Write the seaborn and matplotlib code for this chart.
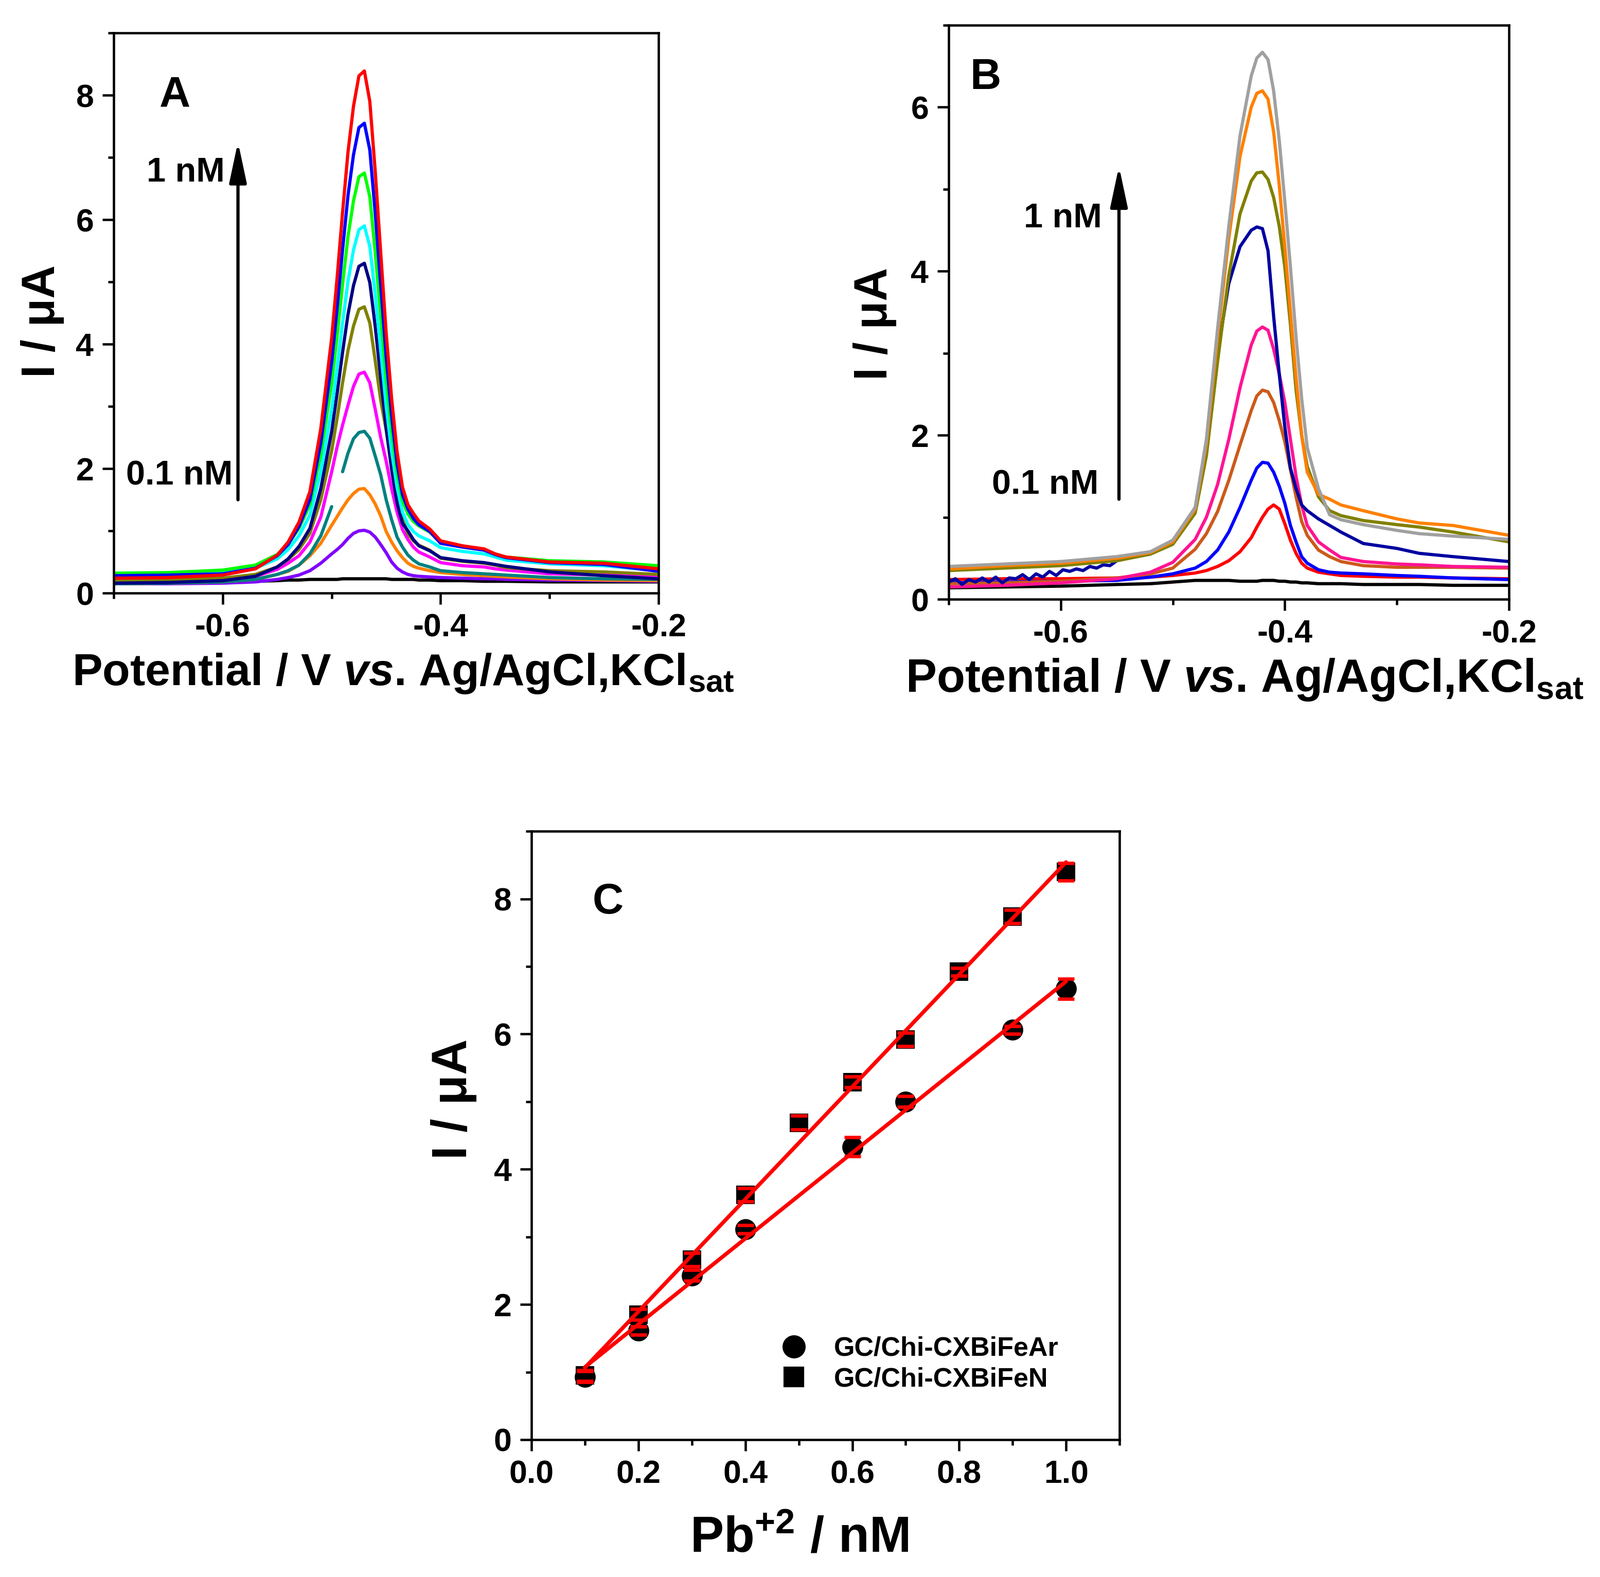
import numpy as np
import pandas as pd
import matplotlib
matplotlib.use("Agg")
import matplotlib.pyplot as plt
import seaborn as sns
from matplotlib.ticker import MultipleLocator
from matplotlib.lines import Line2D

# ---------------- Panel A data ----------------
potential_a = [-0.70, -0.65, -0.60, -0.57, -0.55, -0.54, -0.53, -0.52, -0.51, -0.50,
               -0.495, -0.49, -0.485, -0.48, -0.475, -0.47, -0.465, -0.46, -0.455, -0.45,
               -0.445, -0.44, -0.435, -0.43, -0.425, -0.42, -0.41, -0.40, -0.38, -0.36,
               -0.35, -0.34, -0.30, -0.25, -0.20]
a_black = [0.15, 0.16, 0.18, 0.19, 0.20, 0.21, 0.21, 0.22, 0.22, 0.22, 0.22, 0.23, 0.23, 0.23, 0.23,
           0.23, 0.23, 0.23, 0.23, 0.23, 0.22, 0.22, 0.22, 0.22, 0.22, 0.21, 0.21, 0.20, 0.20, 0.19,
           0.19, 0.19, 0.18, 0.18, 0.18]
a_purple = [0.15, 0.15, 0.16, 0.18, 0.22, 0.25, 0.29, 0.36, 0.48, 0.63, 0.70, 0.78, 0.88, 0.96, 1.00,
            1.01, 0.98, 0.90, 0.78, 0.65, 0.50, 0.40, 0.34, 0.30, 0.28, 0.27, 0.26, 0.25, 0.24, 0.23,
            0.23, 0.22, 0.21, 0.20, 0.19]
a_orange = [0.15, 0.16, 0.18, 0.22, 0.30, 0.35, 0.45, 0.60, 0.80, 1.09, 1.23, 1.37, 1.50, 1.60, 1.67,
            1.68, 1.58, 1.43, 1.24, 0.99, 0.82, 0.68, 0.57, 0.48, 0.43, 0.40, 0.36, 0.33, 0.30, 0.28,
            0.27, 0.26, 0.23, 0.21, 0.20]
a_teal = [0.15, 0.16, 0.18, 0.22, 0.30, 0.36, 0.45, 0.63, 0.92, 1.39, np.nan, 1.95, 2.25, 2.48, 2.58,
          2.60, 2.49, 2.20, 1.90, 1.50, 1.18, 0.90, 0.74, 0.61, 0.53, 0.47, 0.42, 0.36, 0.33, 0.31,
          0.30, 0.29, 0.25, 0.23, 0.22]
a_magenta = [0.20, 0.20, 0.22, 0.27, 0.38, 0.48, 0.60, 0.82, 1.22, 1.95, 2.35, 2.70, 3.02, 3.32, 3.52,
             3.55, 3.38, 2.95, 2.50, 2.12, 1.68, 1.30, 1.02, 0.86, 0.74, 0.66, 0.58, 0.49, 0.44, 0.42,
             0.39, 0.37, 0.31, 0.29, 0.27]
a_olive = [0.20, 0.21, 0.24, 0.30, 0.42, 0.54, 0.70, 0.96, 1.50, 2.29, 2.81, 3.38, 3.90, 4.29, 4.56,
           4.60, 4.34, 3.73, 3.10, 2.62, 2.05, 1.55, 1.20, 0.95, 0.84, 0.77, 0.69, 0.56, 0.51, 0.48,
           0.45, 0.41, 0.36, 0.34, 0.30]
a_navy = [0.16, 0.17, 0.20, 0.27, 0.42, 0.55, 0.75, 1.04, 1.68, 2.60, 3.21, 3.87, 4.48, 4.94, 5.25,
          5.30, 4.99, 4.28, 3.46, 2.65, 1.99, 1.45, 1.12, 1.00, 0.86, 0.76, 0.68, 0.57, 0.52, 0.49,
          0.46, 0.43, 0.34, 0.28, 0.23]
a_cyan = [0.28, 0.29, 0.33, 0.40, 0.55, 0.70, 0.92, 1.25, 1.95, 2.95, 3.62, 4.34, 5.01, 5.51, 5.84,
          5.90, 5.57, 4.79, 3.90, 3.00, 2.28, 1.70, 1.30, 1.10, 0.99, 0.92, 0.84, 0.73, 0.67, 0.63,
          0.58, 0.53, 0.47, 0.44, 0.36]
a_green = [0.32, 0.33, 0.37, 0.45, 0.62, 0.78, 1.04, 1.42, 2.22, 3.37, 4.13, 4.96, 5.73, 6.30, 6.69,
           6.75, 6.37, 5.47, 4.45, 3.43, 2.60, 1.93, 1.48, 1.27, 1.15, 1.08, 0.98, 0.82, 0.75, 0.70,
           0.63, 0.58, 0.52, 0.50, 0.44]
a_blue = [0.28, 0.29, 0.31, 0.40, 0.60, 0.78, 1.07, 1.50, 2.41, 3.71, 4.58, 5.52, 6.39, 7.04, 7.48,
          7.55, 7.12, 6.10, 4.94, 3.79, 2.84, 2.08, 1.58, 1.35, 1.20, 1.10, 0.99, 0.80, 0.74, 0.69,
          0.62, 0.57, 0.49, 0.46, 0.35]
a_red = [0.24, 0.25, 0.29, 0.39, 0.61, 0.82, 1.14, 1.63, 2.64, 4.10, 5.07, 6.12, 7.09, 7.82, 8.31,
         8.39, 7.90, 6.77, 5.47, 4.18, 3.13, 2.27, 1.70, 1.42, 1.28, 1.16, 1.03, 0.84, 0.76, 0.71,
         0.63, 0.58, 0.50, 0.48, 0.39]
colors_a = ["#000000", "#8000FF", "#FF8000", "#008080", "#FF00FF", "#808000",
            "#000080", "#00FFFF", "#00FF00", "#0000FF", "#FF0000"]

# ---------------- Panel B data ----------------
potential_b = [-0.70, -0.65, -0.60, -0.55, -0.52, -0.50, -0.48, -0.47, -0.46, -0.45,
               -0.44, -0.43, -0.425, -0.42, -0.415, -0.41, -0.405, -0.40, -0.395, -0.39,
               -0.385, -0.38, -0.37, -0.36, -0.35, -0.33, -0.30, -0.28, -0.25, -0.20]
b_black = [0.14, 0.15, 0.16, 0.18, 0.19, 0.21, 0.23, 0.23, 0.23, 0.23, 0.22, 0.22, 0.22, 0.23, 0.23,
           0.23, 0.22, 0.22, 0.21, 0.21, 0.20, 0.20, 0.19, 0.19, 0.19, 0.18, 0.18, 0.18, 0.17, 0.17]
b_red = [0.24, 0.25, 0.25, 0.26, 0.27, 0.29, 0.32, 0.35, 0.40, 0.47, 0.58, 0.75, 0.88, 1.00, 1.10,
         1.15, 1.10, 0.92, 0.72, 0.56, 0.44, 0.38, 0.33, 0.31, 0.29, 0.28, 0.27, 0.27, 0.26, 0.25]
b_blue = [0.20, 0.21, 0.22, 0.23, 0.27, 0.31, 0.38, 0.46, 0.60, 0.82, 1.12, 1.45, 1.60, 1.67, 1.66,
          1.55, 1.38, 1.17, 0.90, 0.70, 0.52, 0.44, 0.36, 0.33, 0.32, 0.31, 0.29, 0.28, 0.26, 0.24]
b_brown = [0.19, 0.20, 0.22, 0.26, 0.31, 0.38, 0.61, 0.80, 1.07, 1.45, 1.88, 2.30, 2.48, 2.55, 2.53,
           2.40, 2.18, 1.92, 1.58, 1.25, 0.95, 0.78, 0.60, 0.52, 0.46, 0.41, 0.39, 0.39, 0.39, 0.38]
b_pink = [0.15, 0.17, 0.20, 0.25, 0.33, 0.45, 0.73, 1.00, 1.40, 1.95, 2.58, 3.10, 3.27, 3.32, 3.28,
          3.05, 2.75, 2.40, 1.95, 1.50, 1.15, 0.90, 0.70, 0.60, 0.51, 0.46, 0.43, 0.42, 0.40, 0.39]
potential_b_navy = [-0.700, -0.694, -0.688, -0.682, -0.676, -0.670, -0.664, -0.658, -0.652, -0.646,
                    -0.640, -0.634, -0.628, -0.622, -0.616, -0.610, -0.604, -0.598, -0.592, -0.586,
                    -0.580, -0.574, -0.568, -0.562, -0.556,
                    -0.55, -0.52, -0.50, -0.48, -0.47, -0.46, -0.45, -0.44, -0.43, -0.425,
                    -0.42, -0.415, -0.41, -0.405, -0.40, -0.395, -0.39, -0.385, -0.38, -0.37,
                    -0.36, -0.35, -0.33, -0.30, -0.28, -0.25, -0.20]
b_navy = [0.21, 0.25, 0.18, 0.24, 0.21, 0.26, 0.21, 0.27, 0.20, 0.26, 0.25, 0.30, 0.24, 0.31, 0.27,
          0.34, 0.29, 0.36, 0.34, 0.37, 0.35, 0.40, 0.38, 0.42, 0.41,
          0.47, 0.56, 0.70, 1.10, 1.85, 3.00, 3.85, 4.30, 4.50, 4.54, 4.52, 4.25, 3.45, 2.75, 2.10,
          1.60, 1.35, 1.15, 1.08, 0.98, 0.90, 0.82, 0.68, 0.62, 0.56, 0.52, 0.46]
b_olive = [0.35, 0.38, 0.41, 0.47, 0.55, 0.67, 1.05, 1.75, 2.90, 3.95, 4.70, 5.10, 5.20, 5.21, 5.12,
           4.90, 4.55, 4.05, 3.35, 2.55, 2.00, 1.62, 1.25, 1.08, 1.02, 0.96, 0.91, 0.88, 0.82, 0.70]
b_orange = [0.37, 0.41, 0.44, 0.50, 0.57, 0.70, 1.10, 1.90, 3.20, 4.40, 5.40, 6.00, 6.17, 6.20, 6.10,
            5.70, 5.05, 4.30, 3.50, 2.70, 2.00, 1.55, 1.28, 1.22, 1.15, 1.08, 0.98, 0.93, 0.90, 0.78]
b_gray = [0.40, 0.43, 0.46, 0.52, 0.58, 0.72, 1.12, 1.95, 3.30, 4.55, 5.65, 6.38, 6.60, 6.67, 6.58,
          6.20, 5.60, 4.85, 4.05, 3.20, 2.45, 1.85, 1.35, 1.03, 0.97, 0.91, 0.84, 0.80, 0.77, 0.73]
colors_b = ["#000000", "#FF0000", "#0000FF", "#CC5A1A", "#FF1493", "#0000A0",
            "#808000", "#FF8000", "#A0A0A0"]

# ---------------- Panel C data ----------------
conc_n = [0.1, 0.2, 0.3, 0.4, 0.5, 0.6, 0.7, 0.8, 0.9, 1.0]
current_n = [0.95, 1.85, 2.66, 3.62, 4.69, 5.29, 5.92, 6.92, 7.74, 8.40]
err_n = [0.08, 0.08, 0.10, 0.10, 0.10, 0.08, 0.10, 0.06, 0.10, 0.13]
conc_ar = [0.1, 0.2, 0.3, 0.4, 0.6, 0.7, 0.9, 1.0]
current_ar = [0.93, 1.61, 2.43, 3.11, 4.33, 5.00, 6.06, 6.67]
err_ar = [0.08, 0.06, 0.08, 0.06, 0.14, 0.08, 0.06, 0.15]
label_ar = "GC/Chi-CXBiFeAr"
label_n = "GC/Chi-CXBiFeN"

# ---------------- Style ----------------
sns.set_theme(style="ticks")
plt.rcParams.update({
    "font.family": ["Liberation Sans", "DejaVu Sans"],
    "font.weight": "bold",
    "axes.labelweight": "bold",
    "axes.unicode_minus": False,
    "mathtext.fontset": "custom",
    "mathtext.rm": "Liberation Sans:bold",
    "mathtext.bf": "Liberation Sans:bold",
    "mathtext.it": "Liberation Sans:italic:bold",
    "axes.linewidth": 1.1,
    "axes.edgecolor": "black",
    "text.color": "black",
    "axes.labelcolor": "black",
    "xtick.color": "black",
    "ytick.color": "black",
})

fig = plt.figure(figsize=(3110 / 300, 3066 / 300), dpi=300)
axA = fig.add_axes([0.0711, 0.6239, 0.3405, 0.3552])
axB = fig.add_axes([0.5929, 0.6200, 0.3502, 0.3640])
axC = fig.add_axes([0.3322, 0.0871, 0.3675, 0.3858])

xlabel_pot = r"Potential / V $\mathit{vs}$. Ag/AgCl,KCl$_{\mathrm{sat}}$"
ylabel_i = "I / \u03bcA"


def style_axes(ax):
    for s in ax.spines.values():
        s.set_linewidth(1.1)
        s.set_color("black")
    ax.tick_params(which="major", direction="out", length=5.3, width=1.1,
                   labelsize=15, pad=4, colors="black", top=False, right=False)
    ax.tick_params(which="minor", direction="out", length=2.6, width=1.1,
                   colors="black", top=False, right=False)
    for lab in ax.get_xticklabels() + ax.get_yticklabels():
        lab.set_fontweight("bold")


def draw_curve(ax, x, y, color):
    x = np.asarray(x, dtype=float)
    y = np.asarray(y, dtype=float)
    idx = np.where(np.isfinite(y))[0]
    if len(idx) == 0:
        return
    breaks = np.where(np.diff(idx) > 1)[0]
    starts = np.concatenate([[0], breaks + 1])
    ends = np.concatenate([breaks + 1, [len(idx)]])
    for s, e in zip(starts, ends):
        seg = idx[s:e]
        df = pd.DataFrame({"E": x[seg], "I": y[seg]})
        sns.lineplot(data=df, x="E", y="I", ax=ax, color=color, lw=1.5,
                     estimator=None, sort=False, legend=False)


arrow_props = dict(arrowstyle="-|>,head_length=0.8,head_width=0.17",
                   mutation_scale=20, lw=1.5, color="black", shrinkA=0, shrinkB=0)

# ---------------- Panel A ----------------
curves_a = [a_black, a_purple, a_orange, a_teal, a_magenta, a_olive,
            a_navy, a_cyan, a_green, a_blue, a_red]
for yv, c in zip(curves_a, colors_a):
    draw_curve(axA, potential_a, yv, c)
axA.set_xlim(-0.7, -0.2)
axA.set_ylim(0, 9)
axA.xaxis.set_minor_locator(MultipleLocator(0.1))
axA.yaxis.set_major_locator(MultipleLocator(2))
axA.yaxis.set_minor_locator(MultipleLocator(1))
axA.set_xticks([-0.6, -0.4, -0.2])
axA.set_xticklabels(["-0.6", "-0.4", "-0.2"])
axA.set_xlabel(xlabel_pot, fontsize=21.1, labelpad=4)
axA.set_ylabel(ylabel_i, fontsize=21.5, labelpad=5)
axA.xaxis.set_label_coords(0.531, -0.105)
axA.yaxis.set_label_coords(-0.091, 0.485)
axA.text(-0.658, 8.0, "A", fontsize=20, fontweight="bold", ha="left", va="center")
axA.text(-0.598, 6.75, "1 nM", fontsize=16, fontweight="bold", ha="right", va="center")
axA.text(-0.591, 1.88, "0.1 nM", fontsize=16, fontweight="bold", ha="right", va="center")
axA.annotate("", xy=(-0.586, 7.25), xytext=(-0.586, 1.5), arrowprops=arrow_props)
style_axes(axA)

# ---------------- Panel B ----------------
curves_b = [(potential_b, b_black), (potential_b, b_red), (potential_b, b_blue),
            (potential_b, b_brown), (potential_b, b_pink), (potential_b_navy, b_navy),
            (potential_b, b_olive), (potential_b, b_orange), (potential_b, b_gray)]
for (xv, yv), c in zip(curves_b, colors_b):
    draw_curve(axB, xv, yv, c)
axB.set_xlim(-0.7, -0.2)
axB.set_ylim(0, 7)
axB.xaxis.set_minor_locator(MultipleLocator(0.1))
axB.yaxis.set_major_locator(MultipleLocator(2))
axB.yaxis.set_minor_locator(MultipleLocator(1))
axB.set_xticks([-0.6, -0.4, -0.2])
axB.set_xticklabels(["-0.6", "-0.4", "-0.2"])
axB.set_xlabel(xlabel_pot, fontsize=21.6, labelpad=4)
axB.set_ylabel(ylabel_i, fontsize=21.5, labelpad=5)
axB.xaxis.set_label_coords(0.528, -0.1)
axB.yaxis.set_label_coords(-0.093, 0.48)
axB.text(-0.681, 6.36, "B", fontsize=20, fontweight="bold", ha="left", va="center")
axB.text(-0.563, 4.64, "1 nM", fontsize=16, fontweight="bold", ha="right", va="center")
axB.text(-0.566, 1.39, "0.1 nM", fontsize=16, fontweight="bold", ha="right", va="center")
axB.annotate("", xy=(-0.548, 5.28), xytext=(-0.548, 1.22), arrowprops=arrow_props)
style_axes(axB)

# ---------------- Panel C ----------------
eb_n = axC.errorbar(conc_n, current_n, yerr=err_n, fmt="none", ecolor="#FF0000",
                    elinewidth=1.5, capsize=3.8, capthick=1.6, zorder=2)
eb_ar = axC.errorbar(conc_ar, current_ar, yerr=err_ar, fmt="none", ecolor="#FF0000",
                     elinewidth=1.5, capsize=3.8, capthick=1.6, zorder=2)
sns.scatterplot(x=conc_ar, y=current_ar, ax=axC, marker="o", s=96, color="black",
                edgecolor="black", linewidth=0, zorder=3, legend=False)
sns.scatterplot(x=conc_n, y=current_n, ax=axC, marker="s", s=78, color="black",
                edgecolor="black", linewidth=0, zorder=3, legend=False)
for eb in (eb_n, eb_ar):
    for cap in eb[1]:
        cap.set_zorder(6)
sns.regplot(x=np.array(conc_n), y=np.array(current_n), ax=axC, scatter=False, ci=None,
            color="#FF0000", line_kws=dict(lw=1.8, zorder=4))
sns.regplot(x=np.array(conc_ar), y=np.array(current_ar), ax=axC, scatter=False, ci=None,
            color="#FF0000", line_kws=dict(lw=1.8, zorder=4))
axC.set_xlim(0, 1.1)
axC.set_ylim(0, 9)
axC.xaxis.set_minor_locator(MultipleLocator(0.1))
axC.yaxis.set_major_locator(MultipleLocator(2))
axC.yaxis.set_minor_locator(MultipleLocator(1))
axC.set_xticks([0.0, 0.2, 0.4, 0.6, 0.8, 1.0])
axC.set_xticklabels(["0.0", "0.2", "0.4", "0.6", "0.8", "1.0"])
axC.set_xlabel(r"Pb$^{\mathrm{+2}}$ / nM", fontsize=23.5, labelpad=4)
axC.set_ylabel(ylabel_i, fontsize=23, labelpad=5)
axC.xaxis.set_label_coords(0.455, -0.125)
axC.yaxis.set_label_coords(-0.093, 0.56)
axC.text(0.114, 7.95, "C", fontsize=20, fontweight="bold", ha="left", va="center")
handles = [Line2D([], [], ls="none", marker="o", color="black", markersize=9.8),
           Line2D([], [], ls="none", marker="s", color="black", markersize=8.6)]
axC.legend(handles, [label_ar, label_n], loc="upper left",
           bbox_to_anchor=(0.423, 0.170), frameon=False, handlelength=1.0,
           handletextpad=1.0, labelspacing=0.2, borderpad=0, borderaxespad=0,
           prop=dict(family=["Liberation Sans", "DejaVu Sans"], weight="bold", size=12.5))
style_axes(axC)

fig.savefig("out.png", dpi=300, facecolor="white")
